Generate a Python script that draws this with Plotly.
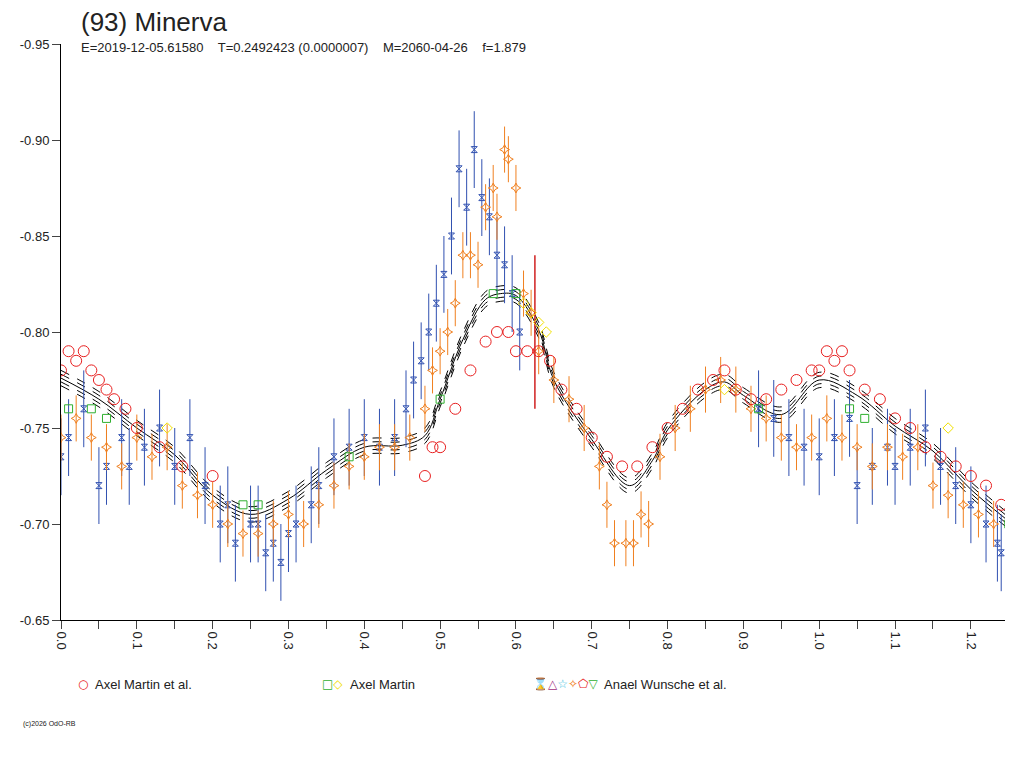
import plotly.graph_objects as go

# model lightcurve
model_phase = [0.0, 0.05, 0.1, 0.15, 0.2, 0.25, 0.3, 0.35, 0.4, 0.45, 0.48, 0.5, 0.53, 0.56, 0.58, 0.6,
               0.63, 0.65, 0.7, 0.75, 0.78, 0.8, 0.85, 0.875, 0.9, 0.95, 1.0, 1.05, 1.1, 1.15, 1.2, 1.245]
model_mag = [-0.776, -0.765, -0.750, -0.736, -0.715, -0.705, -0.713, -0.728, -0.740, -0.741, -0.746, -0.765,
             -0.796, -0.817, -0.820, -0.819, -0.801, -0.775, -0.744, -0.720, -0.733, -0.749, -0.770, -0.774,
             -0.767, -0.757, -0.775, -0.767, -0.751, -0.738, -0.718, -0.703]
model_offsets = [-0.004, -0.002, 0.0, 0.002, 0.004]

# Axel Martin et al.
red_phase = [0.0, 0.01, 0.02, 0.03, 0.04, 0.05, 0.06, 0.07, 0.085, 0.1, 0.13, 0.16, 0.2, 0.48, 0.49, 0.5, 0.52,
             0.54, 0.56, 0.575, 0.59, 0.6, 0.615, 0.63, 0.645, 0.66, 0.68, 0.7, 0.72, 0.74, 0.76, 0.78, 0.8,
             0.82, 0.84, 0.86, 0.875, 0.89, 0.91, 0.93, 0.95, 0.97, 0.99, 1.0, 1.01, 1.02, 1.03, 1.04, 1.06,
             1.08, 1.1, 1.12, 1.14, 1.16, 1.18, 1.2, 1.22, 1.24]
red_mag = [-0.78, -0.79, -0.785, -0.79, -0.78, -0.775, -0.77, -0.765, -0.76, -0.75, -0.74, -0.73, -0.725,
           -0.725, -0.74, -0.74, -0.76, -0.78, -0.795, -0.80, -0.80, -0.79, -0.79, -0.79, -0.785, -0.77,
           -0.76, -0.745, -0.735, -0.73, -0.73, -0.74, -0.75, -0.76, -0.77, -0.775, -0.78, -0.77, -0.765,
           -0.765, -0.77, -0.775, -0.78, -0.78, -0.79, -0.785, -0.79, -0.78, -0.77, -0.765, -0.755, -0.75,
           -0.74, -0.735, -0.73, -0.725, -0.72, -0.71]

# Axel Martin
green_phase = [0.01, 0.04, 0.06, 0.24, 0.26, 0.38, 0.5, 0.57, 0.6, 0.92, 1.04, 1.06, 1.25]
green_mag = [-0.76, -0.76, -0.755, -0.71, -0.71, -0.735, -0.765, -0.82, -0.82, -0.76, -0.76, -0.755, -0.70]
yellow_phase = [0.14, 0.61, 0.62, 0.63, 0.64, 0.875, 1.17]
yellow_mag = [-0.75, -0.815, -0.81, -0.805, -0.80, -0.77, -0.75]

# Anael Wunsche et al.
blue_phase = [0.0, 0.01, 0.03, 0.05, 0.06, 0.08, 0.09, 0.11, 0.13, 0.15, 0.17, 0.19, 0.21, 0.22, 0.23, 0.25,
              0.26, 0.27, 0.28, 0.29, 0.3, 0.31, 0.33, 0.34, 0.36, 0.38, 0.4, 0.42, 0.44, 0.455, 0.465, 0.475,
              0.485, 0.495, 0.505, 0.515, 0.525, 0.535, 0.545, 0.555, 0.565, 0.575, 0.585, 0.595, 0.605,
              0.92, 0.94, 0.96, 0.98, 1.0, 1.02, 1.04, 1.05, 1.07, 1.09, 1.1, 1.12, 1.14, 1.16, 1.18, 1.2,
              1.22, 1.235, 1.24]
blue_mag = [-0.735, -0.745, -0.76, -0.72, -0.73, -0.745, -0.73, -0.74, -0.75, -0.73, -0.745, -0.72, -0.70,
            -0.71, -0.69, -0.70, -0.70, -0.685, -0.69, -0.68, -0.695, -0.70, -0.71, -0.72, -0.735, -0.74,
            -0.745, -0.74, -0.745, -0.76, -0.775, -0.785, -0.80, -0.815, -0.83, -0.85, -0.885, -0.865,
            -0.895, -0.87, -0.86, -0.84, -0.835, -0.82, -0.80, -0.76, -0.755, -0.745, -0.74, -0.735, -0.745,
            -0.755, -0.72, -0.73, -0.74, -0.73, -0.74, -0.75, -0.73, -0.72, -0.71, -0.70, -0.69, -0.685]
blue_err = [0.02] * len(blue_mag)

orange_phase = [0.0, 0.02, 0.04, 0.06, 0.08, 0.1, 0.12, 0.14, 0.16, 0.18, 0.2, 0.22, 0.24, 0.26, 0.28, 0.3,
                0.32, 0.34, 0.36, 0.38, 0.4, 0.42, 0.44, 0.46, 0.48, 0.49, 0.5, 0.51, 0.52, 0.53, 0.54, 0.55,
                0.56, 0.57, 0.575, 0.585, 0.59, 0.6, 0.61, 0.62, 0.63, 0.65, 0.67, 0.69, 0.71, 0.72, 0.73,
                0.745, 0.755, 0.765, 0.775, 0.79, 0.81, 0.83, 0.85, 0.87, 0.89, 0.91, 0.93, 0.95, 0.97, 0.99,
                1.01, 1.03, 1.05, 1.07, 1.09, 1.11, 1.13, 1.15, 1.17, 1.19, 1.21, 1.23]
orange_mag = [-0.745, -0.755, -0.745, -0.74, -0.73, -0.745, -0.735, -0.74, -0.72, -0.715, -0.71, -0.70,
              -0.695, -0.695, -0.70, -0.705, -0.70, -0.71, -0.72, -0.73, -0.735, -0.74, -0.74, -0.745,
              -0.76, -0.78, -0.79, -0.80, -0.815, -0.84, -0.84, -0.835, -0.865, -0.875, -0.86, -0.895,
              -0.89, -0.875, -0.82, -0.81, -0.79, -0.775, -0.765, -0.75, -0.73, -0.71, -0.69, -0.69, -0.69,
              -0.705, -0.70, -0.735, -0.75, -0.76, -0.77, -0.775, -0.77, -0.76, -0.755, -0.745, -0.74,
              -0.745, -0.755, -0.745, -0.74, -0.73, -0.74, -0.735, -0.74, -0.72, -0.715, -0.71, -0.705, -0.70]
orange_err = [0.012] * len(orange_mag)

fig = go.Figure()

for off in model_offsets:
    fig.add_trace(go.Scatter(
        x=model_phase, y=[m + off for m in model_mag], mode="lines", line_shape="spline",
        line=dict(color="black", width=1, dash="solid" if off == 0 else "dash"), hoverinfo="skip"))

fig.add_trace(go.Scatter(x=blue_phase, y=blue_mag, mode="markers",
                         error_y=dict(array=blue_err, color="#3050b0", width=0, thickness=1),
                         marker=dict(symbol="hourglass-open", size=6, color="#3050b0")))
fig.add_trace(go.Scatter(x=orange_phase, y=orange_mag, mode="markers",
                         error_y=dict(array=orange_err, color="#f08020", width=0, thickness=1),
                         marker=dict(symbol="star-diamond-open", size=7, color="#f08020")))
fig.add_trace(go.Scatter(x=[0.625], y=[-0.80], mode="markers",
                         error_y=dict(array=[0.04], color="#d02020", width=0, thickness=1.5),
                         marker=dict(size=1, color="#d02020")))
fig.add_trace(go.Scatter(x=red_phase, y=red_mag, mode="markers",
                         marker=dict(symbol="circle-open", size=11, color="#e82020")))
fig.add_trace(go.Scatter(x=green_phase, y=green_mag, mode="markers",
                         marker=dict(symbol="square-open", size=8, color="#30b030")))
fig.add_trace(go.Scatter(x=yellow_phase, y=yellow_mag, mode="markers",
                         marker=dict(symbol="diamond-open", size=8, color="#f0e000")))

fig.update_layout(
    width=1024, height=768, showlegend=False,
    plot_bgcolor="white", paper_bgcolor="white",
    margin=dict(l=50, r=27, t=36, b=156),
    font=dict(family="Liberation Sans, Arial", color="#222", size=13),
    xaxis=dict(range=[0, 1.245], tickvals=[i / 10 for i in range(13)],
               ticktext=["%.1f" % (i / 10) for i in range(13)], tickangle=90,
               ticks="outside", ticklen=8, showgrid=False, zeroline=False,
               showline=True, linecolor="black", mirror=False,
               minor=dict(tickvals=[i / 10 + 0.05 for i in range(12)], ticks="outside", ticklen=8)),
    yaxis=dict(range=[-0.65, -0.95], tickvals=[-0.95, -0.90, -0.85, -0.80, -0.75, -0.70, -0.65],
               ticktext=["-0.95", "-0.90", "-0.85", "-0.80", "-0.75", "-0.70", "-0.65"],
               ticks="outside", ticklen=8, showgrid=False, zeroline=False,
               showline=True, linecolor="black"),
)


def px_x(px):
    return (px - 58) / 947


def px_y(py):
    return (620 - py) / 576


ann = [
    (76, 22, "(93) Minerva", 26),
    (76, 48, "E=2019-12-05.61580    T=0.2492423 (0.0000007)    M=2060-04-26    f=1.879", 13),
    (90, 684, "Axel Martin et al.", 13),
    (346, 684, "Axel Martin", 13),
    (601, 684, "Anael Wunsche et al.", 13),
    (18, 724, "(c)2026 OdO-RB", 7),
]
for x, y, t, s in ann:
    fig.add_annotation(x=px_x(x), y=px_y(y), xref="paper", yref="paper", xanchor="left", yanchor="middle",
                       text=t, showarrow=False, font=dict(size=s))
for x, t in [(73, '<span style="color:#e82020">○</span>'),
             (318, '<span style="color:#30b030">□</span><span style="color:#f0e000">◇</span>'),
             (529, '<span style="color:#3050b0">⌛</span><span style="color:#a03080">△</span>'
                   '<span style="color:#40c0e0">☆</span><span style="color:#f08020">✧</span>'
                   '<span style="color:#e82020">⬠</span><span style="color:#30b030">▽</span>')]:
    fig.add_annotation(x=px_x(x), y=px_y(684), xref="paper", yref="paper", xanchor="left",
                       yanchor="middle", text=t, showarrow=False, font=dict(size=12, family="DejaVu Sans"))

fig.write_html("out.html")
